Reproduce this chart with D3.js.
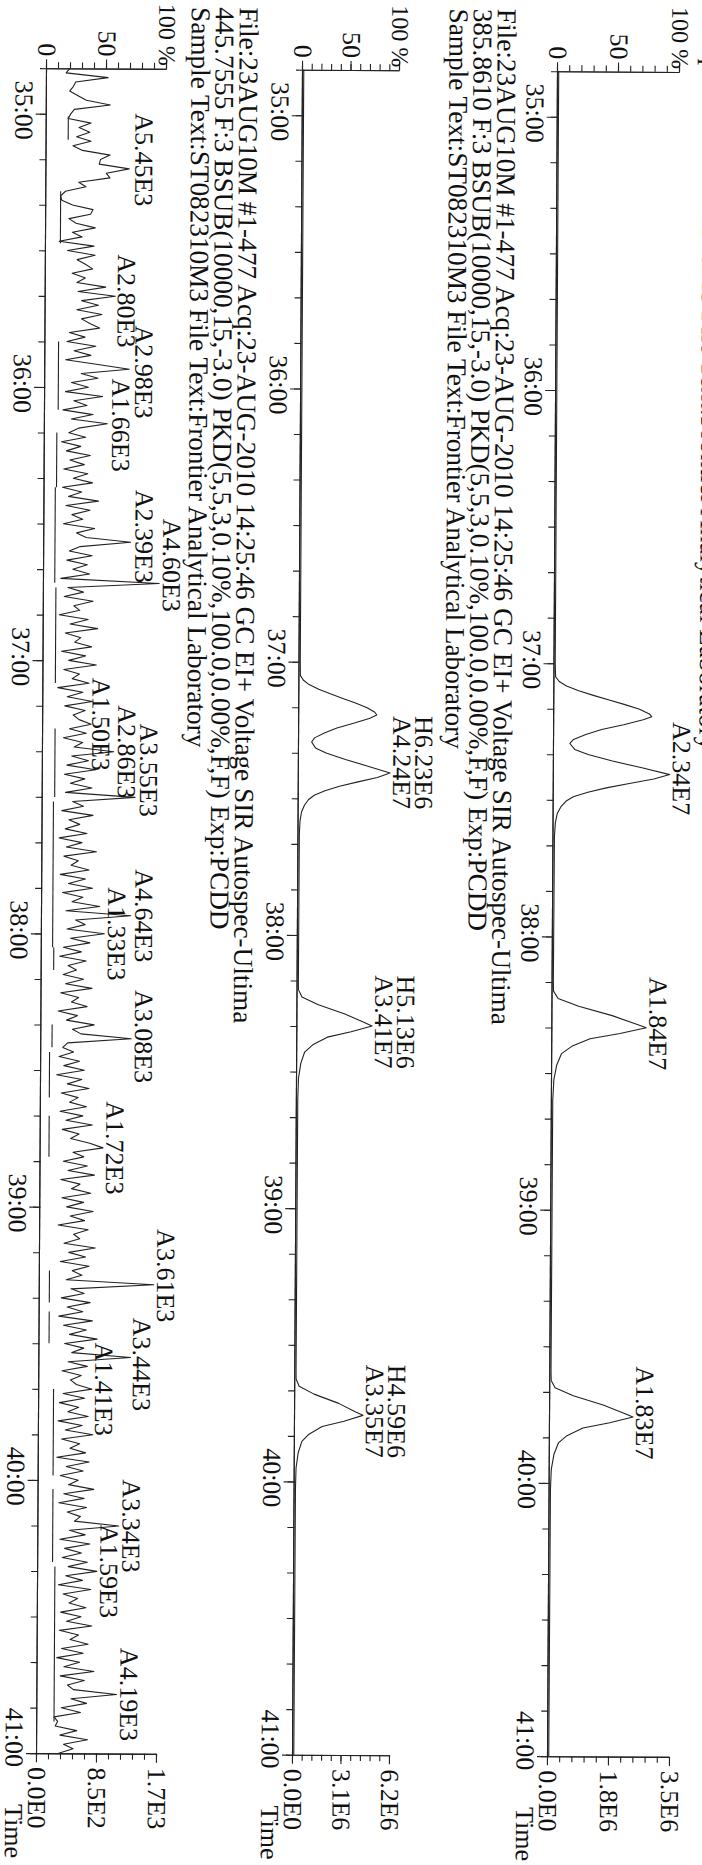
<!DOCTYPE html>
<html><head><meta charset="utf-8">
<script src="https://cdn.jsdelivr.net/npm/d3@7"></script>
<style>
html,body{margin:0;padding:0;background:#fff;}
svg{display:block;}
text{font-family:"Liberation Serif","Times New Roman",serif;fill:#111;}
</style></head><body>
<svg id="c" width="702" height="1865"></svg>
<script>
// ---------------- data ----------------
const timeStart = 34 + 50/60;           // 34:50 (minutes)
const timeEnd = 41;                      // 41:00
const minuteTicks = [35,36,37,38,39,40,41];
const minuteLabels = ["35:00","36:00","37:00","38:00","39:00","40:00","41:00"];
const pctMajor = [0,50,100];
const pctLabels = ["0","50","100 %"];

const headerFile = "File:23AUG10M #1-477 Acq:23-AUG-2010 14:25:46 GC EI+ Voltage SIR Autospec-Ultima";
const headerSample = "Sample Text:ST082310M3 File Text:Frontier Analytical Laboratory";
const header2Mass = "385.8610 F:3 BSUB(10000,15,-3.0) PKD(5,5,3,0.10%,100.0,0.00%,F,F) Exp:PCDD";
const header3Mass = "445.7555 F:3 BSUB(10000,15,-3.0) PKD(5,5,3,0.10%,100.0,0.00%,F,F) Exp:PCDD";

const p1Right = ["0.0E0","1.8E6","3.5E6"];
const p2Right = ["0.0E0","3.1E6","6.2E6"];
const p3Right = ["0.0E0","8.5E2","1.7E3"];

// seconds after 34:50, intensity in %
const p1Times = [0,130,133,134,135,136,137,138,139,140,141,141.6,142.3,143.4,144.5,145.6,146.7,147.6,148.9,150,151.4,152.9,154.3,155.3,156.3,157.3,158.3,159.3,160.3,161.5,163,165,168,
  200,202,203.6,205.3,207.3,209.1,209.9,211.2,212.4,214.1,215.7,218.2,221.5,226,
  285.5,287.5,289.1,290.8,292.8,294.6,295.4,296.7,297.9,299.6,301.2,303.7,307,311.5,370];
const p1Vals = [0.6,0.6,1,4,10,20,32,45,58,70,78,80,73,57,39,26,16,13,17,28,48,73,95,82,62,43,28,16,10,6,3,1.5,0.8,
  0.6,0.8,4.6,21.5,49,68.5,77,55.5,31,16,7.7,3.8,1.5,0.7,
  0.6,0.8,4,19,43.5,60.5,68,49,27,14,7,3.4,1.3,0.7,0.6];
const p2Times = p1Times;
const p2Vals = [0.8,0.8,1,4,10,20,32,45,58,70,78,80,73,57,39,26,16,13,17,28,48,72,94,81,61,42,27,16,10,6,3,1.5,0.9,
  0.8,0.9,4.6,21.5,49,68.5,77,55.5,31,16,7.7,3.8,1.5,0.9,
  0.8,0.9,4.1,19.5,45,62,70,50.5,28,14.5,7.2,3.5,1.4,0.9,0.8];

const p1LabelTimes = [153,209,294.5];
const p1LabelPct = [95,77,68];
const p1LabelA = ["A2.34E7","A1.84E7","A1.83E7"];
const p2LabelTimes = [152,209,294.5];
const p2LabelPct = [94,77,70];
const p2LabelH = ["H6.23E6","H5.13E6","H4.59E6"];
const p2LabelA = ["A4.24E7","A3.41E7","A3.35E7"];

// panel 3 noise trace, one value per second from 34:50 to 41:00 (%)
const p3Vals = [
19,16,51,24,22,19,26,33,53,23,
20,18,37,27,36,25,37,22,30,53,
45,44,69,50,53,27,33,16,12,13,
22,39,37,19,25,41,22,30,11,40,
18,41,26,33,39,22,33,26,50,27,
58,30,44,26,47,30,37,45,20,33,
18,42,24,38,17,44,70,30,44,22,
36,17,48,24,35,15,40,22,52,28,
20,34,14,30,18,38,21,33,16,36,
24,40,15,31,20,45,18,38,23,32,
16,42,27,35,72,30,21,40,19,36,
24,38,14,96,20,33,17,41,25,30,
13,37,22,45,18,31,26,40,15,35,
21,44,17,30,24,38,12,33,20,41,
18,35,25,30,40,22,36,17,33,26,
59,24,38,20,44,18,35,23,41,19,
77,25,34,16,42,22,31,19,37,14,
33,20,45,18,30,24,39,15,36,22,
42,17,34,25,48,20,74,28,36,21,
52,24,40,18,33,15,37,22,29,18,
35,20,42,16,31,25,38,14,30,21,
44,26,33,75,22,18,27,15,32,19,
36,13,34,22,40,17,31,24,38,16,
35,21,43,18,32,25,41,52,27,36,
19,39,23,45,17,33,26,42,18,36,
22,44,25,37,15,40,28,33,20,46,
24,38,17,41,27,35,22,95,26,37,
18,42,23,36,16,44,20,39,25,48,
21,37,27,76,24,40,19,35,26,31,
44,20,38,17,33,24,41,16,36,22,
45,19,34,26,39,15,42,23,37,18,
33,25,46,21,38,17,40,24,35,30,
67,26,39,18,43,22,36,20,41,25,
49,23,37,17,44,21,33,26,40,19,
36,24,45,18,34,27,42,20,38,16,
35,22,47,19,39,25,30,66,28,41,
20,36,14,17,15,33,19,42,22,30,
18];
const p3BaseStart = [10.6,27,60,80,92,114,145,161,181,193,210,216,230,264,273,290,301,312,329,348];
const p3BaseEnd   = [15.7,38.4,75,92,113,135,160,181,193,198,215,226,239,271,280,301,309,328,348,363];
const p3BaseLevel = [18,12,11,10,9,10,10,9,9,10,9,7,7,8,8,12,12,12,14,14];

const p3LabelText = ["A5.45E3","A2.80E3","A2.98E3","A1.66E3","A2.39E3","A4.60E3","A1.50E3","A2.86E3","A3.55E3","A4.64E3",
  "A1.33E3","A3.08E3","A1.72E3","A3.61E3","A3.44E3","A1.41E3","A3.34E3","A1.59E3","A4.19E3"];
const p3LabelTimes = [20,51,66.6,78.3,102.7,109,144,150,154,186,190,212.5,237,265,284.5,290,320,330,357];
const p3LabelPct = [74,60,75,56,76,99,41,62.5,81,77.6,55,78,54.6,97.7,78,46.6,70,51.7,69];

// ---------------- drawing ----------------
const W = 702;
const svg = d3.select("#c");
svg.append("rect").attr("width",702).attr("height",1865).attr("fill","#fff");
const root = svg.append("g").attr("transform","rotate(0.34,351,70)");
const g = root.append("g").attr("transform",`translate(${W},0) rotate(90)`);

const FS = 26;
const x = d3.scaleLinear().domain([timeStart,timeEnd]).range([70,1755]);
const sec = s => timeStart + s/60;
const minorTicks = d3.range(0,38).map(i => timeStart + i/6);
const pctMinor = d3.range(0,11).map(i => i*10);

function styleAxis(sel){
  sel.attr("color","#222").selectAll("path,line").attr("stroke-width",1.1);
  sel.selectAll("text").attr("font-size",FS).attr("font-family",'"Liberation Serif",serif').attr("fill","#111");
}

function drawPanel(P){
  const y = d3.scaleLinear().domain([0,100]).range([W-P.base, W-P.top]);
  const by = W-P.base;
  // time axis
  g.append("g").attr("transform",`translate(0,${by})`)
    .call(d3.axisBottom(x).tickValues(minorTicks).tickSize(7).tickSizeOuter(0).tickFormat(""))
    .call(styleAxis);
  const ta = g.append("g").attr("transform",`translate(0,${by})`)
    .call(d3.axisBottom(x).tickValues(minuteTicks).tickSize(11).tickSizeOuter(0).tickPadding(2)
      .tickFormat((d,i)=>minuteLabels[i]))
    .call(styleAxis);
  ta.selectAll("text").attr("dx",(d,i)=> i===minuteTicks.length-1 ? -16 : -4);
  // left intensity axis
  g.append("g").attr("transform",`translate(${x(timeStart)},0)`)
    .call(d3.axisLeft(y).tickValues(pctMinor).tickSize(6).tickSizeOuter(0).tickFormat(""))
    .call(styleAxis);
  g.append("g").attr("transform",`translate(${x(timeStart)},0)`)
    .call(d3.axisLeft(y).tickValues(pctMajor).tickSize(9).tickSizeOuter(0).tickFormat(""))
    .call(styleAxis);
  pctMajor.forEach((v,i)=>{
    g.append("text").attr("x", i===2 ? x(timeStart)-3 : x(timeStart)-12).attr("y", y(v)).attr("dy","0.34em")
      .attr("text-anchor","end").attr("font-size", i===2 ? 24 : FS).text(pctLabels[i]);
  });
  // right intensity axis
  g.append("g").attr("transform",`translate(${x(timeEnd)},0)`)
    .call(d3.axisRight(y).tickValues(pctMinor).tickSize(6).tickSizeOuter(0).tickFormat(""))
    .call(styleAxis);
  g.append("g").attr("transform",`translate(${x(timeEnd)},0)`)
    .call(d3.axisRight(y).tickValues(pctMajor).tickSize(9).tickSizeOuter(0).tickPadding(5)
      .tickFormat((d,i)=>P.right[i]))
    .call(styleAxis);
  // "Time"
  g.append("text").attr("x",1806).attr("y",by+31.6).attr("font-size",FS).text("Time");
  // header
  P.header.forEach((h,i)=>{
    g.append("text").attr("class","hdr").attr("x",8).attr("y",P.headerY[i]).attr("font-size",FS).text(h);
  });
  return y;
}

const P1 = {base:558, top:680, right:p1Right, header:[headerSample], headerY:[W-(712-8.6)]};
const P2 = {base:303, top:400, right:p2Right, header:[headerFile,header2Mass,headerSample],
            headerY:[W-(506-8.6),W-(482-8.6),W-(458-8.6)]};
const P3 = {base:47, top:167, right:p3Right, header:[headerFile,header3Mass,headerSample],
            headerY:[W-(248-8.6),W-(224-8.6),W-(200-8.6)]};

const y1 = drawPanel(P1), y2 = drawPanel(P2), y3 = drawPanel(P3);

// header font fit
(function(){
  const probe = g.append("text").attr("font-size",FS).text("File:23AUG10M #1-477 Acq:23-AUG-2010 14:25:46 GC EI+ ");
  const len = probe.node().getComputedTextLength();
  probe.remove();
  const fs = FS*685/len;
  g.selectAll("text.hdr").attr("font-size",fs);
})();

const lineStyle = s => s.attr("fill","none").attr("stroke","#222").attr("stroke-width",1.1).attr("stroke-linejoin","round");

// traces
const l1 = d3.line().x((d,i)=>x(sec(p1Times[i]))).y(d=>y1(d));
g.append("path").datum(p1Vals).attr("d",l1).call(lineStyle);
const l2 = d3.line().x((d,i)=>x(sec(p2Times[i]))).y(d=>y2(d));
g.append("path").datum(p2Vals).attr("d",l2).call(lineStyle);
const l3 = d3.line().x((d,i)=>x(sec(i))).y(d=>y3(d));
g.append("path").datum(p3Vals).attr("d",l3).call(lineStyle);

// integration baselines (panel 3)
p3BaseStart.forEach((s,i)=>{
  g.append("line").attr("x1",x(sec(s))).attr("x2",x(sec(p3BaseEnd[i])))
    .attr("y1",y3(p3BaseLevel[i])).attr("y2",y3(p3BaseLevel[i]))
    .attr("stroke","#222").attr("stroke-width",1.1);
});

// peak labels
p1LabelTimes.forEach((t,i)=>{
  g.append("text").attr("x",x(sec(t))).attr("y",y1(p1LabelPct[i])-3).attr("text-anchor","middle")
    .attr("font-size",FS).text(p1LabelA[i]);
});
p2LabelTimes.forEach((t,i)=>{
  g.append("text").attr("x",x(sec(t))).attr("y",y2(p2LabelPct[i])-3).attr("text-anchor","middle")
    .attr("font-size",FS).text(p2LabelA[i]);
  g.append("text").attr("x",x(sec(t))).attr("y",y2(p2LabelPct[i])-25).attr("text-anchor","middle")
    .attr("font-size",FS).text(p2LabelH[i]);
});
p3LabelTimes.forEach((t,i)=>{
  g.append("text").attr("x",x(sec(t))).attr("y",y3(p3LabelPct[i])).attr("text-anchor","middle")
    .attr("font-size",FS).text(p3LabelText[i]);
});
</script>
</body></html>
